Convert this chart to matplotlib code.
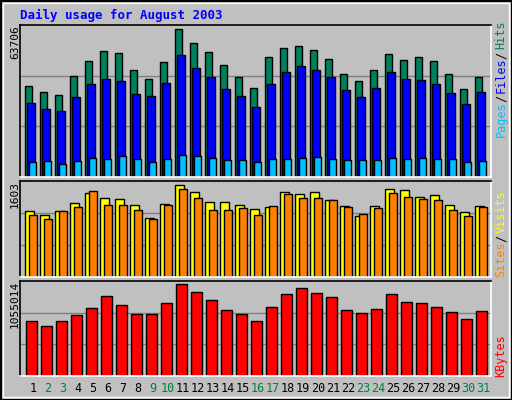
import matplotlib
matplotlib.use("Agg")
import matplotlib.pyplot as plt
from matplotlib.patches import Rectangle

days = list(range(1, 32))
weekend = [2, 3, 9, 10, 16, 17, 23, 24, 30, 31]
hits = [37943, 35423, 34163, 42143, 48444, 52644, 51804, 44664, 40884, 48024, 61886, 56005, 52224, 46764, 41724, 37104,
        50124, 53905, 54745, 53065, 49284, 42984, 40044, 44664, 51384, 48864, 50124, 48444, 42984, 36683, 41724]
files = [31222, 28702, 27862, 33322, 38783, 40883, 40043, 34583, 33742, 39203, 50964, 45503, 41723, 36683, 33742, 29542,
         38783, 43823, 46343, 44663, 41723, 36263, 33322, 37103, 43823, 40883, 40463, 38783, 35003, 30802, 35423]
pages = [6440, 6860, 5600, 6860, 8120, 7700, 8960, 7700, 6440, 7700, 9380, 8960, 8120, 7280, 7280, 6440,
         7700, 7700, 8120, 8540, 7700, 7280, 7280, 7280, 8120, 7700, 8120, 7700, 7700, 6440, 6860]
visits = [1106, 1039, 1106, 1240, 1407, 1324, 1307, 1206, 989, 1223, 1541, 1424, 1257, 1257, 1206, 1139,
          1173, 1424, 1391, 1424, 1290, 1190, 1022, 1190, 1474, 1458, 1340, 1374, 1206, 1089, 1190]
sites = [1039, 972, 1106, 1173, 1441, 1206, 1206, 1123, 972, 1206, 1474, 1324, 1123, 1123, 1156, 1039,
         1190, 1391, 1324, 1324, 1290, 1173, 1056, 1156, 1407, 1340, 1307, 1290, 1123, 1022, 1173]
kbytes = [605545, 549820, 605545, 672415, 750430, 884170, 783865, 683560, 683560, 806155, 1017910, 928750, 839590,
          728140, 683560, 605545, 761575, 906460, 973330, 917605, 873025, 728140, 694705, 739285, 906460, 817300,
          806155, 761575, 705850, 627835, 717000]
max_hits, max_visits, max_kb = 63706, 1603, 1055014

W, H = 512, 400
fig = plt.figure(figsize=(W / 100, H / 100), dpi=100)
fig.patch.set_facecolor("#C0C0C0")
mono = "DejaVu Sans Mono"

# outer border
fig.add_artist(Rectangle((0.5 / W, 0.5 / H), 1 - 1 / W, 1 - 1 / H, transform=fig.transFigure,
                         fill=False, edgecolor="black", lw=1.5))
fig.add_artist(Rectangle((3 / W, 3 / H), 1 - 6 / W, 1 - 6 / H, transform=fig.transFigure,
                         fill=False, edgecolor="white", lw=1))

def ax_at(x0, y0, x1, y1):
    return fig.add_axes([x0 / W, 1 - y1 / H, (x1 - x0) / W, (y1 - y0) / H])

x = [d - 1 for d in days]

def style(ax, top):
    ax.set_facecolor("#C0C0C0")
    ax.set_xlim(0, 31.4)
    ax.set_ylim(0, top)
    for g in (top / 3, 2 * top / 3):
        ax.axhline(g, color="#808080", lw=1, zorder=0)
    ax.set_xticks([]); ax.set_yticks([])
    ax.spines["top"].set_color("black"); ax.spines["left"].set_color("black")
    ax.spines["bottom"].set_color("white"); ax.spines["right"].set_color("white")
    for s in ax.spines.values():
        s.set_linewidth(1.2)

a1 = ax_at(20, 25, 491, 177)
style(a1, max_hits)
kw = dict(align="edge", edgecolor="black", linewidth=1)
a1.bar([v + 0.35 for v in x], hits, width=0.47, color="#00805C", **kw)
a1.bar([v + 0.47 for v in x], files, width=0.5, color="#0000FF", **kw)
a1.bar([v + 0.62 for v in x], pages, width=0.47, color="#00C0FF", **kw)

a2 = ax_at(20, 181, 491, 277)
style(a2, max_visits)
a2.bar([v + 0.35 for v in x], visits, width=0.56, color="#FFFF00", **kw)
a2.bar([v + 0.58 for v in x], sites, width=0.53, color="#FF8000", **kw)

a3 = ax_at(20, 281, 491, 376)
style(a3, max_kb)
a3.bar([v + 0.42 for v in x], kbytes, width=0.69, color="#FF0000", **kw)

for d in days:
    fig.text((20 + (d - 1 + 0.87) * 471 / 31.4) / W, 1 - 389 / H, str(d), ha="center", va="center",
             fontsize=8.5, family=mono, color="#008040" if d in weekend else "black")

fig.text(20 / W, 1 - 15 / H, "Daily usage for August 2003", ha="left", va="center",
         fontsize=9, family=mono, fontweight="bold", color="#0000FF")

for y, t in ((25, str(max_hits)), (181, str(max_visits)), (281, str(max_kb))):
    fig.text(15 / W, 1 - y / H, t, rotation=90, ha="center", va="top", fontsize=8, family=mono, color="black")

def rlabel(parts, ybottom):
    y = ybottom
    for t, c in parts:
        txt = fig.text(501 / W, 1 - y / H, t, rotation=90, ha="center", va="bottom",
                       fontsize=8.5, family=mono, color=c)
        y -= len(t) * 6.3 + 3

rlabel([("Pages", "#00C0FF"), ("/", "#000000"), ("Files", "#0000FF"), ("/", "#000000"), ("Hits", "#00805C")], 137)
rlabel([("Sites", "#FF8000"), ("/", "#000000"), ("Visits", "#FFFF00")], 277)
rlabel([("KBytes", "#FF0000")], 377)

fig.savefig("out.png", dpi=100, facecolor=fig.get_facecolor())
